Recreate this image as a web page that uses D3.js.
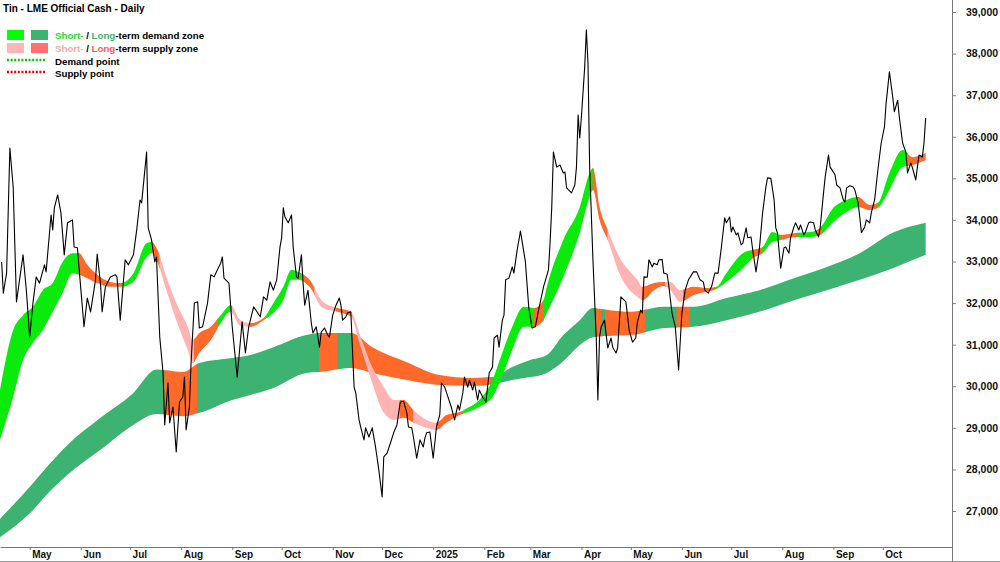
<!DOCTYPE html>
<html><head><meta charset="utf-8">
<script src="https://cdn.jsdelivr.net/npm/d3@7"></script>
<style>
html,body{margin:0;padding:0;background:#fff;}
svg{display:block;font-family:"Liberation Sans",Arial,Helvetica,sans-serif;}
</style></head><body>
<svg id="chart" width="1000" height="562"></svg>
<script>
// ---------------- data ----------------
const chartTitle = "Tin - LME Official Cash - Daily";
const startDate = new Date(2024, 3, 13);   // day 0
const endDate = new Date(2025, 10, 12);
const yTicks = [27000, 28000, 29000, 30000, 31000, 32000, 33000, 34000, 35000, 36000, 37000, 38000, 39000];
const xTickLabels = ["May","Jun","Jul","Aug","Sep","Oct","Nov","Dec","2025","Feb","Mar","Apr","May","Jun","Jul","Aug","Sep","Oct"];

// [day offset from startDate, close]
const price = [[1,32990],[2,32240],[4,32720],[6,35730],[8,34790],[10,32030],[14,33160],[16,32310],[18,31180],[20,32000],[22,32630],[24,32480],[27,32920],[28,32750],[31,34120],[32,33760],[33,34290],[35,34600],[37,34170],[39,33160],[41,33930],[44,34000],[45,33350],[47,33330],[48,32840],[51,31430],[53,32120],[55,31790],[58,32560],[59,33180],[61,32480],[62,31790],[64,32390],[67,32630],[70,32680],[71,32630],[73,31590],[76,33040],[78,32920],[81,33160],[83,33760],[85,34480],[86,34410],[89,35630],[90,33810],[92,33520],[94,32990],[95,33110],[97,31180],[99,30320],[100,29070],[102,30080],[103,29120],[105,29500],[107,28420],[109,29620],[111,29740],[112,30220],[113,28950],[115,29500],[116,30560],[118,32000],[120,32030],[121,31400],[123,31430],[126,32000],[128,32680],[130,32630],[132,32800],[134,32960],[135,33110],[136,32600],[139,32480],[141,31430],[144,30220],[147,31550],[149,30800],[151,31430],[154,31910],[156,31790],[158,31670],[160,32150],[162,32070],[164,32510],[166,32310],[168,32560],[170,33350],[171,33570],[172,34290],[173,34070],[175,33930],[177,34120],[178,33350],[180,32630],[181,32600],[183,33160],[184,32480],[185,31950],[187,32310],[189,31520],[190,31280],[192,31430],[194,30940],[195,31300],[197,31400],[199,31230],[200,31180],[202,31710],[204,31950],[206,32120],[207,31950],[208,31590],[210,31670],[211,31760],[213,31790],[215,29980],[216,29840],[218,29190],[219,29020],[221,28710],[222,29000],[224,28780],[226,29000],[228,28540],[230,27990],[232,27340],[233,28300],[235,28390],[237,28630],[239,28880],[241,29070],[243,29620],[245,29640],[247,29360],[248,29020],[250,29000],[251,28780],[253,28270],[255,28710],[257,28540],[258,28760],[259,28880],[261,28900],[263,28270],[265,29020],[267,29310],[268,30080],[270,29980],[272,29740],[274,29500],[276,29190],[278,29550],[279,29430],[281,29840],[282,30220],[284,29980],[285,30150],[287,29910],[288,30100],[290,29670],[291,29910],[293,29740],[295,29620],[297,30320],[299,30460],[300,31160],[302,31230],[303,30940],[305,31590],[306,31710],[307,32560],[309,32600],[311,32870],[312,32720],[314,33280],[316,33730],[319,32990],[321,31910],[323,31400],[325,31430],[327,31830],[330,32390],[333,32800],[334,33470],[335,34310],[336,35630],[338,35270],[340,35320],[342,35130],[343,35150],[344,34770],[347,34650],[349,34840],[350,35270],[351,36520],[352,35970],[353,36480],[355,37680],[356,38570],[357,37770],[358,35270],[360,33040],[362,31180],[363,29670],[364,31180],[365,31430],[367,31590],[369,30920],[371,31160],[372,30940],[374,30800],[375,30920],[377,32150],[380,32030],[382,31350],[384,31060],[386,31160],[387,31550],[389,31830],[390,31760],[391,32630],[393,32620],[394,33040],[396,32870],[397,32960],[399,32920],[400,33040],[402,33050],[403,32720],[405,32700],[406,32440],[408,31760],[410,31430],[412,30390],[414,31760],[416,32310],[418,32560],[421,32750],[423,32750],[425,32560],[427,32510],[428,32310],[430,32240],[432,32390],[434,32720],[436,32720],[438,33350],[440,34050],[441,33930],[443,34070],[444,33710],[445,33830],[447,33640],[448,33690],[450,33400],[451,33440],[453,33810],[454,33570],[456,33590],[457,33280],[459,32750],[461,33280],[463,34170],[465,34790],[466,35010],[468,35000],[470,34480],[471,33810],[472,33690],[474,32840],[476,33330],[477,33350],[479,33200],[480,33570],[482,33830],[483,33930],[485,33760],[486,33880],[488,33640],[489,33710],[491,33930],[492,33950],[494,33930],[495,33760],[497,33590],[498,33830],[500,34650],[501,35030],[503,35560],[504,35270],[506,35150],[507,35080],[508,34840],[510,34770],[512,34480],[513,34430],[514,34770],[516,34820],[518,34790],[519,34720],[521,34410],[522,34070],[523,33690],[525,33830],[526,34000],[528,33930],[529,34170],[531,34480],[533,35200],[535,35850],[537,36240],[538,36810],[540,37560],[542,36960],[543,36600],[545,36880],[546,36480],[548,35850],[550,35630],[551,35130],[553,35370],[554,35250],[556,34960],[557,35270],[558,35560],[560,35510],[561,35850],[562,36450]];

// short-term zone [day, upper, lower]
const shortBand = [[0,29910,28710],[8,31350,29740],[14,31710,30630],[20,31910,31040],[26,32310,31350],[32,32480,31790],[38,32990,32240],[44,33200,32720],[48,33200,32680],[53,32920,32600],[59,32680,32480],[67,32510,32390],[73,32480,32390],[81,32720,32510],[89,33440,33110],[92,33470,33200],[95,33330,33040],[101,32630,32310],[107,32000,31590],[114,31430,30870],[117,31110,30560],[121,31280,30800],[128,31430,31110],[134,31710,31520],[140,31950,31790],[146,31590,31450],[152,31520,31430],[160,31640,31590],[166,32000,31760],[172,32390,32070],[177,32800,32560],[181,32750,32560],[188,32560,32390],[196,32030,31880],[205,31880,31790],[213,31790,31670],[219,31180,30940],[226,30460,30080],[233,29980,29360],[239,29670,29190],[245,29670,29240],[251,29430,29120],[259,29190,29000],[265,29120,28950],[271,29310,29120],[279,29380,29310],[284,29480,29380],[291,29670,29500],[299,30150,29740],[304,30700,30150],[311,31430,30870],[318,31910,31430],[324,31880,31430],[330,32070,31590],[332,32390,31760],[342,33520,32630],[352,34310,33690],[358,35130,34550],[360,35250,34720],[364,34310,34000],[369,33760,33520],[376,33110,32720],[387,32560,32150],[390,32390,32070],[397,32480,32310],[403,32510,32410],[407,32510,32310],[413,32310,32030],[421,32390,32190],[429,32360,32270],[435,32390,32340],[441,32720,32510],[451,33200,32840],[457,33280,33080],[463,33350,33200],[469,33710,33470],[474,33640,33520],[484,33690,33590],[492,33710,33590],[498,33810,33640],[506,34290,33950],[514,34480,34190],[521,34550,34310],[528,34360,34240],[533,34410,34290],[540,35130,34720],[548,35680,35270],[554,35510,35320],[562,35610,35440]];

// long-term zone [day, upper, lower]
const longBand = [[0,26810,26370],[20,27670,27020],[30,28130,27460],[41,28590,27870],[61,29240,28470],[81,29840,29070],[95,30400,29330],[111,30340,29280],[121,30560,29360],[141,30680,29670],[152,30750,29790],[166,30940,29960],[186,31230,30320],[194,31280,30340],[213,31280,30440],[226,30940,30320],[247,30580,30150],[267,30270,30030],[287,30200,30010],[299,30220,30050],[311,30460,30150],[322,30630,30220],[332,30750,30320],[342,31230,30600],[352,31590,30990],[360,31880,31180],[370,31830,31210],[383,31790,31230],[403,31910,31400],[421,31910,31430],[441,32120,31590],[461,32310,31790],[482,32600,32070],[502,32870,32310],[522,33200,32560],[542,33690,32840],[562,33930,33160]];

// zone state per period [fromDay, toDay, state]
const shortStates = [[0,48,"demand"],[48,74,"test"],[74,92,"demand"],[92,97,"test"],[97,118,"supply"],[118,132,"test"],[132,141,"demand"],[141,152,"supply"],[152,161,"test"],[161,184,"demand"],[184,191,"test"],[191,204,"supply"],[204,213,"test"],[213,243,"supply"],[243,251,"test"],[251,265,"supply"],[265,282,"test"],[282,324,"demand"],[324,330,"test"],[330,360,"demand"],[360,369,"test"],[369,390,"supply"],[390,404,"test"],[404,415,"supply"],[415,435,"test"],[435,457,"demand"],[457,463,"test"],[463,474,"demand"],[474,484,"test"],[484,496,"demand"],[496,499,"test"],[499,521,"demand"],[521,533,"test"],[533,551,"demand"],[551,562,"test"]];
const longStates = [[0,100,"demand"],[100,120,"test"],[120,194,"demand"],[194,205,"test"],[205,214,"demand"],[214,299,"test"],[299,362,"demand"],[362,365.5,"test"],[365.5,367.5,"demand"],[367.5,392,"test"],[392,411,"demand"],[411,419,"test"],[419,562,"demand"]];

const legendRows = [
  {swatches:["#00ff00","#3cb371"], parts:[["Short-","#22dd22"],[" / ","#000"],["Long","#3cb371"],["-term demand zone","#000"]]},
  {swatches:["#ffb6b6","#ff7070"], parts:[["Short-","#ffaaaa"],[" / ","#000"],["Long","#ff5a5a"],["-term supply zone","#000"]]},
  {dots:"#00cc00", parts:[["Demand point","#000"]]},
  {dots:"#ee0000", parts:[["Supply point","#000"]]}
];

// ---------------- chart ----------------
const plotRight = 952, axisY = 547;
const svg = d3.select("#chart");
const defs = svg.append("defs");
const day = d => new Date(startDate.getTime() + d * 864e5);
const x = d3.scaleTime().domain([startDate, endDate]).range([0, plotRight]);
const y = d3.scaleLinear().domain([27000, 39000]).range([511, 12]);

const palette = {
  short: {demand: "#0beb0b", supply: "#ffb3b3", test: "#ff6a2b"},
  long:  {demand: "#3cb371", supply: "#ff7070", test: "#ff6a2b"}
};

defs.append("clipPath").attr("id", "plot").append("rect")
  .attr("x", 0).attr("y", 0).attr("width", plotRight).attr("height", axisY);

const plot = svg.append("g").attr("clip-path", "url(#plot)");

function drawBand(data, states, pal, name) {
  const area = d3.area()
    .x(d => x(day(d[0])))
    .y0(d => y(d[2]))
    .y1(d => y(d[1]))
    .curve(d3.curveMonotoneX);
  const g = plot.append("g");
  states.forEach((s, i) => {
    const id = name + "-clip-" + i;
    const x0 = x(day(s[0])), x1 = x(day(s[1]));
    defs.append("clipPath").attr("id", id).append("rect")
      .attr("x", x0 - 0.4).attr("y", 0).attr("width", x1 - x0 + 0.8).attr("height", axisY);
    g.append("path").datum(data).attr("d", area)
      .attr("fill", pal[s[2]]).attr("clip-path", "url(#" + id + ")");
  });
}
drawBand(longBand, longStates, palette.long, "long");
drawBand(shortBand, shortStates, palette.short, "short");

plot.append("path").datum(price)
  .attr("fill", "none").attr("stroke", "#000").attr("stroke-width", 1.1)
  .attr("stroke-linejoin", "round")
  .attr("d", d3.line().x(d => x(day(d[0]))).y(d => y(d[1])));

// axes
const yAxis = d3.axisRight(y).tickValues(yTicks).tickSize(4).tickSizeOuter(0)
  .tickPadding(10).tickFormat(d3.format(","));
const yg = svg.append("g").attr("transform", `translate(${plotRight},0)`).call(yAxis);
yg.select(".domain").remove();
yg.selectAll(".tick line").attr("stroke", "#888");
yg.selectAll("text").attr("font-size", 10.5).attr("font-weight", "bold").attr("fill", "#111")
  .attr("font-family", '"Liberation Sans",Arial,sans-serif');

const monthTicks = d3.timeMonth.range(new Date(2024, 4, 1), new Date(2025, 10, 1));
const xAxis = d3.axisBottom(x).tickValues(monthTicks).tickSize(3).tickSizeOuter(0)
  .tickFormat((d, i) => xTickLabels[i]);
const xg = svg.append("g").attr("transform", `translate(0,${axisY})`).call(xAxis);
xg.select(".domain").attr("stroke", "#777");
xg.selectAll(".tick line").attr("stroke", "#777");
xg.selectAll("text").attr("text-anchor", "start").attr("x", 2).attr("y", 4)
  .attr("font-size", 10).attr("font-weight", "bold").attr("fill", "#111")
  .attr("font-family", '"Liberation Sans",Arial,sans-serif');

svg.append("line").attr("x1", plotRight + 0.5).attr("x2", plotRight + 0.5)
  .attr("y1", 0).attr("y2", 562).attr("stroke", "#777");
svg.append("line").attr("x1", 0).attr("x2", 1000).attr("y1", 561.5).attr("y2", 561.5)
  .attr("stroke", "#999");

// title & legend
svg.append("text").attr("x", 3).attr("y", 12).text(chartTitle)
  .attr("font-size", 10).attr("font-weight", "bold").attr("fill", "#000");

const lg = svg.append("g");
legendRows.forEach((r, i) => {
  const cy = [35, 48, 61, 73][i];
  if (r.swatches) {
    r.swatches.forEach((c, j) => lg.append("rect").attr("x", 7 + j * 24).attr("y", cy - 5)
      .attr("width", 17).attr("height", 10).attr("fill", c));
  } else {
    lg.append("line").attr("x1", 7).attr("x2", 45).attr("y1", cy - 1).attr("y2", cy - 1)
      .attr("stroke", r.dots).attr("stroke-width", 2.5).attr("stroke-dasharray", "2,1.6");
  }
  const t = lg.append("text").attr("x", 55).attr("y", cy + 3.6)
    .attr("font-size", 9.7).attr("font-weight", "bold");
  r.parts.forEach(p => t.append("tspan").text(p[0]).attr("fill", p[1]));
});
</script>
</body></html>
